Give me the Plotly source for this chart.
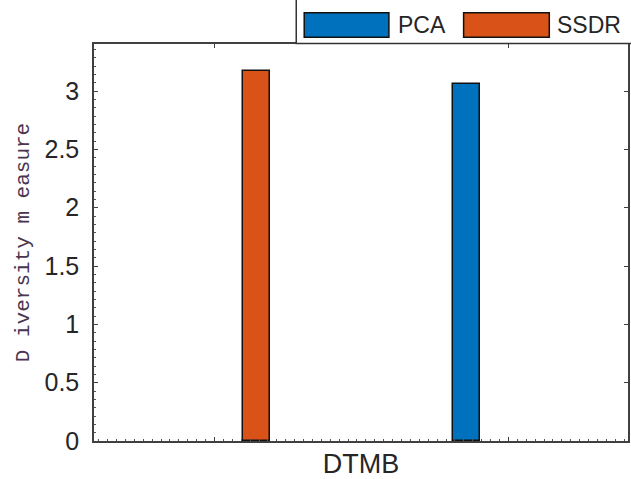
import plotly.graph_objects as go

# ---- data ----
series_names = ["PCA", "SSDR"]
series_values = [3.058, 3.175]
series_x = [1.857, 1.143]
series_colors = ["#0072BD", "#D95319"]
x_label = "DTMB"
y_label = "D iversity m easure"
y_ticks = [0, 0.5, 1, 1.5, 2, 2.5, 3]
y_tick_text = ["0", "0.5", "1", "1.5", "2", "2.5", "3"]

W, H = 631, 479
L, R, T, B = 94, 1, 44, 38
pw, ph = W - L - R, H - T - B
X_RANGE = [0.59, 2.407]
Y_RANGE = [0, 3.403]


def px(x):
    return (x - L) / pw


def py(y):
    return (H - B - y) / ph


fig = go.Figure()
for name, val, xv, col in zip(series_names, series_values, series_x, series_colors):
    fig.add_trace(go.Bar(
        x=[xv], y=[val], name=name, width=0.09,
        marker=dict(color=col, line=dict(color="#111111", width=1.5)),
        showlegend=False,
    ))
# empty trace so the mirrored (top/right) axes exist and carry major ticks only
fig.add_trace(go.Scatter(x=[], y=[], xaxis="x2", yaxis="y2", showlegend=False,
                         hoverinfo="skip"))

axis_font = dict(family="Arial, Liberation Sans, sans-serif", size=25, color="#262626")
tick_col = "#404040"
fig.update_layout(
    width=W, height=H,
    margin=dict(l=L, r=R, t=T, b=B),
    paper_bgcolor="white", plot_bgcolor="white",
    bargap=0,
    xaxis=dict(
        range=X_RANGE, tickmode="linear", tick0=1, dtick=1,
        showticklabels=False, ticks="inside", ticklen=4, tickwidth=1.2, tickcolor=tick_col,
        showline=True, linecolor=tick_col, linewidth=1.5, mirror=True,
        showgrid=False, zeroline=False,
        minor=dict(tickmode="linear", tick0=1, dtick=1 / 33, ticks="inside", ticklen=2,
                   tickcolor="#555555", showgrid=False),
        title=dict(text=x_label, font=dict(family="Arial, Liberation Sans, sans-serif",
                                           size=27, color="#262626"), standoff=12),
    ),
    yaxis=dict(
        range=Y_RANGE, tickmode="array", tickvals=y_ticks, ticktext=y_tick_text,
        ticks="inside", ticklen=4, tickwidth=1.2, tickcolor=tick_col,
        tickfont=axis_font, ticklabelstandoff=8,
        showline=True, linecolor=tick_col, linewidth=1.5, mirror=True,
        showgrid=False, zeroline=False,
        minor=dict(tickmode="linear", tick0=0, dtick=0.5 / 7, ticks="inside", ticklen=2,
                   tickcolor="#555555", showgrid=False),
        title=dict(text=y_label, font=dict(family="Liberation Mono, Courier New, monospace",
                                           size=21, color="#4a3450"), standoff=9),
    ),
    xaxis2=dict(
        overlaying="x", side="top", range=X_RANGE, tickmode="linear", tick0=1, dtick=1,
        showticklabels=False, ticks="inside", ticklen=4, tickwidth=1.2, tickcolor=tick_col,
        showline=False, showgrid=False, zeroline=False,
    ),
    yaxis2=dict(
        overlaying="y", side="right", range=Y_RANGE, tickmode="array", tickvals=y_ticks,
        showticklabels=False, ticks="inside", ticklen=4, tickwidth=1.2, tickcolor=tick_col,
        showline=False, showgrid=False, zeroline=False,
    ),
)

# ---- legend box (manual, MATLAB-style) ----
shapes = [
    dict(type="rect", xref="paper", yref="paper",
         x0=px(297), x1=px(640), y0=py(43.5), y1=py(-5),
         fillcolor="white", line=dict(color="#333333", width=1.5), layer="above"),
]
patch_x = [(305, 390), (465, 551)]
text_x = [397, 557]
annotations = []
for (x0, x1), tx, name, col in zip(patch_x, text_x, series_names, series_colors):
    shapes.append(dict(type="rect", xref="paper", yref="paper",
                       x0=px(x0), x1=px(x1), y0=py(37.3), y1=py(12.7),
                       fillcolor=col, line=dict(color="#111111", width=1.5), layer="above"))
    annotations.append(dict(xref="paper", yref="paper", x=px(tx), y=py(25),
                            xanchor="left", yanchor="middle", showarrow=False,
                            text=name, font=dict(family="Arial, Liberation Sans, sans-serif",
                                                 size=23, color="#262626")))
fig.update_layout(shapes=shapes, annotations=annotations)

fig.write_html("out.html")
